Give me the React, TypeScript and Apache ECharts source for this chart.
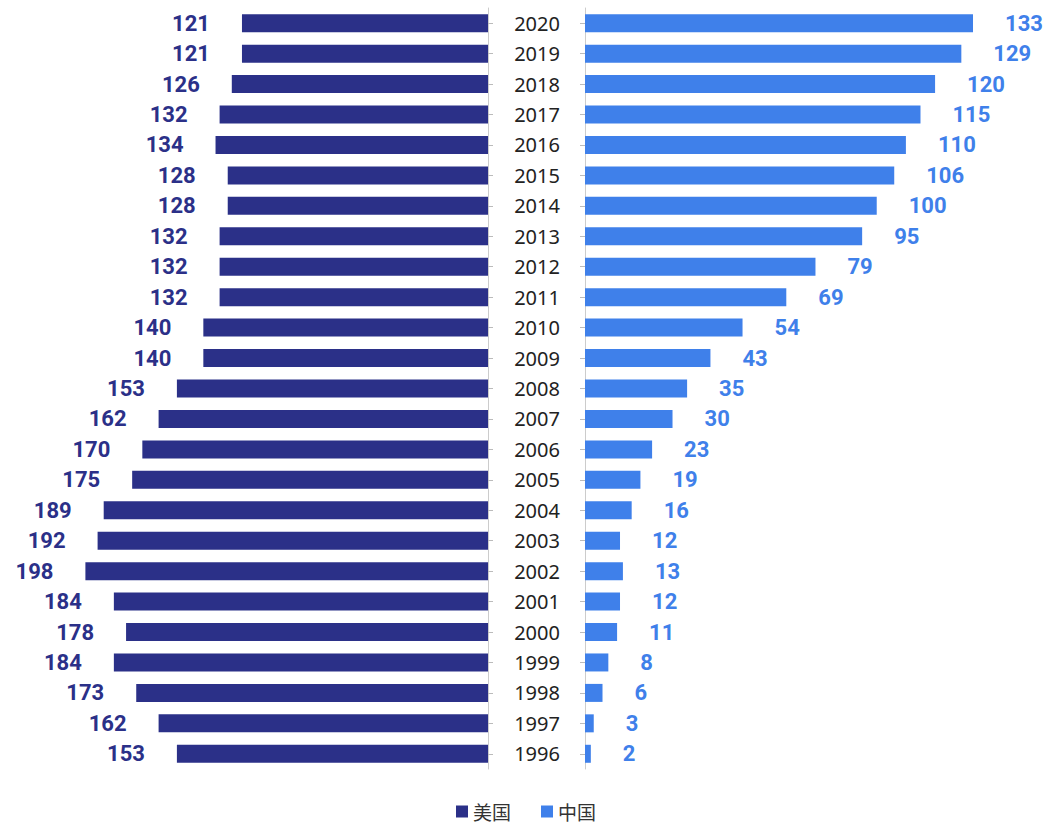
import React, { useEffect, useRef } from "react";
import * as echarts from "echarts";

const years = [
  "1996", "1997", "1998", "1999", "2000", "2001", "2002", "2003", "2004", "2005",
  "2006", "2007", "2008", "2009", "2010", "2011", "2012", "2013", "2014", "2015",
  "2016", "2017", "2018", "2019", "2020",
];
const usValues = [153, 162, 173, 184, 178, 184, 198, 192, 189, 175, 170, 162, 153, 140, 140, 132, 132, 132, 128, 128, 134, 132, 126, 121, 121];
const cnValues = [2, 3, 6, 8, 11, 12, 13, 12, 16, 19, 23, 30, 35, 43, 54, 69, 79, 95, 100, 106, 110, 115, 120, 129, 133];
const seriesNames = ["美国", "中国"];
const colors = ["#2b3088", "#3f80ea"];

export default function App() {
  const ref = useRef<HTMLDivElement>(null);
  useEffect(() => {
    if (!ref.current) return;
    const chart = echarts.init(ref.current, null, { renderer: "svg" });
    const numFont = { fontFamily: "Roboto", fontWeight: "bold" as const, fontSize: 22 };
    chart.setOption({
      animation: false,
      backgroundColor: "#ffffff",
      legend: {
        data: seriesNames,
        left: 456,
        top: 802,
        padding: 0,
        icon: "rect",
        itemWidth: 12,
        itemHeight: 12,
        itemGap: 30,
        textStyle: {
          fontSize: 19,
          color: "#333",
          fontFamily: "Noto Sans CJK SC",
        },
      },
      grid: [
        { left: 0, width: 488, top: 8, height: 761 },
        { left: 585, width: 437.6, top: 8, height: 761 },
      ],
      xAxis: [
        { type: "value", gridIndex: 0, inverse: true, min: 0, max: 240, show: false },
        { type: "value", gridIndex: 1, min: 0, max: 150, show: false },
      ],
      yAxis: [
        {
          type: "category",
          gridIndex: 0,
          position: "right",
          data: years,
          axisLine: { show: true, lineStyle: { color: "#cccccc" } },
          axisTick: { show: true, alignWithLabel: true, length: 5, lineStyle: { color: "#bbbbbb" } },
          axisLabel: {
            align: "center",
            margin: 49,
            fontSize: 20,
            color: "#222",
            fontFamily: "Noto Sans",
          },
        },
        {
          type: "category",
          gridIndex: 1,
          position: "left",
          data: years,
          axisLine: { show: true, lineStyle: { color: "#cccccc" } },
          axisTick: { show: true, alignWithLabel: true, length: 5, lineStyle: { color: "#bbbbbb" } },
          axisLabel: { show: false },
        },
      ],
      series: [
        {
          name: seriesNames[0],
          type: "bar",
          xAxisIndex: 0,
          yAxisIndex: 0,
          data: usValues,
          barWidth: 18,
          itemStyle: { color: colors[0] },
          label: { show: true, position: "left", distance: 32, color: colors[0], ...numFont },
        },
        {
          name: seriesNames[1],
          type: "bar",
          xAxisIndex: 1,
          yAxisIndex: 1,
          data: cnValues,
          barWidth: 18,
          itemStyle: { color: colors[1] },
          label: { show: true, position: "right", distance: 32, color: colors[1], ...numFont },
        },
      ],
    });
    return () => chart.dispose();
  }, []);
  return (
    <div
      ref={ref}
      style={{ position: "absolute", left: 0, top: 0, width: 1046, height: 827 }}
    />
  );
}
